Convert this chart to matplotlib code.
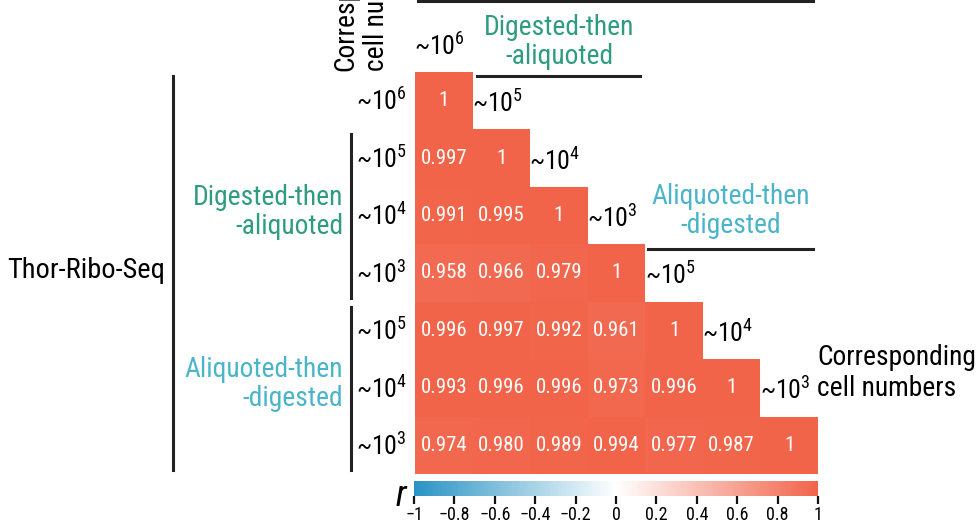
import numpy as np
import matplotlib
matplotlib.use("Agg")
import matplotlib.pyplot as plt
from matplotlib.colors import LinearSegmentedColormap

# condensed sans to mimic the Helvetica Condensed look
plt.rcParams['font.family'] = ['Roboto Condensed', 'Liberation Sans', 'DejaVu Sans']
plt.rcParams['mathtext.fontset'] = 'custom'
plt.rcParams['mathtext.rm'] = 'Roboto Condensed'
plt.rcParams['mathtext.it'] = 'Roboto Condensed:italic'
plt.rcParams['mathtext.default'] = 'regular'

# ---- data ----
exponents = [6, 5, 4, 3, 5, 4, 3]
cell_labels = ['~10$^{%d}$' % e for e in exponents]
corr_rows = [
    [1],
    [0.997, 1],
    [0.991, 0.995, 1],
    [0.958, 0.966, 0.979, 1],
    [0.996, 0.997, 0.992, 0.961, 1],
    [0.993, 0.996, 0.996, 0.973, 0.996, 1],
    [0.974, 0.980, 0.989, 0.994, 0.977, 0.987, 1],
]
group_names = ['Digested-then\n-aliquoted', 'Aliquoted-then\n-digested']
group_colors = ['#2e9c80', '#4ab4c8']
cbar_ticks = [-1, -0.8, -0.6, -0.4, -0.2, 0, 0.2, 0.4, 0.6, 0.8, 1]

n = len(cell_labels)
mat = np.full((n, n), np.nan)
for i, row in enumerate(corr_rows):
    mat[i, :len(row)] = row
mat = np.ma.masked_invalid(mat)

cmap = LinearSegmentedColormap.from_list('corr', ['#2a93c4', '#ffffff', '#f1644a'])

W, H = 976, 528
fig = plt.figure(figsize=(W / 100, H / 100), dpi=100)

# overlay in pixel coords for brackets / labels
ov = fig.add_axes([0, 0, 1, 1])
ov.set_xlim(0, W)
ov.set_ylim(H, 0)
ov.axis('off')

# heatmap
ax = fig.add_axes([415 / W, 1 - 474 / H, 403 / W, 402 / H])
mesh = ax.pcolormesh(np.arange(n + 1), np.arange(n + 1), mat, cmap=cmap,
                     vmin=-1, vmax=1, edgecolors='none')
ax.set_xlim(0, n)
ax.set_ylim(n, 0)
ax.axis('off')

for i, row in enumerate(corr_rows):
    for j, v in enumerate(row):
        txt = '1' if v == 1 else '%.3f' % v
        ax.text(j + 0.5, i + 0.5, txt, ha='center', va='center',
                color='white', fontsize=15)

# row labels (left of heatmap)
for i, lab in enumerate(cell_labels):
    ax.text(-0.14, i + 0.52, lab, ha='right', va='center', fontsize=18.5)

# column labels on the diagonal steps
for j, lab in enumerate(cell_labels):
    ax.text(j + 0.43, j - 0.45, lab, ha='center', va='center', fontsize=18.5)

# left side: group brackets
ov.plot([351, 351], [134, 298], color='#222222', lw=2.2)
ov.plot([351, 351], [307, 470], color='#222222', lw=2.2)
ov.plot([173, 173], [76, 470], color='#222222', lw=2.2)
ov.text(343, 212, group_names[0], ha='right', va='center', color=group_colors[0],
        fontsize=19.8, linespacing=1.1)
ov.text(343, 384, group_names[1], ha='right', va='center', color=group_colors[1],
        fontsize=19.8, linespacing=1.1)
ov.text(165, 270, 'Thor-Ribo-Seq', ha='right', va='center', fontsize=20.5)

# top side: group brackets
ov.plot([418, 813], [1, 1], color='#222222', lw=2.2)
ov.plot([477, 640], [76, 76], color='#222222', lw=2.2)
ov.plot([648, 813], [249, 249], color='#222222', lw=2.2)
ov.text(559, 42, group_names[0], ha='center', va='center', color=group_colors[0],
        fontsize=19.8, linespacing=1.1)
ov.text(731, 211, group_names[1], ha='center', va='center', color=group_colors[1],
        fontsize=19.8, linespacing=1.1)

ov.text(817, 373, 'Corresponding\ncell numbers', ha='left', va='center',
        fontsize=19.8, linespacing=1.2)
ov.text(361, 71, 'Corresponding\ncell numbers', ha='left', va='center',
        rotation=90, rotation_mode='anchor', fontsize=19.8, linespacing=1.2)

# colorbar
cax = fig.add_axes([414 / W, 1 - 495.5 / H, 404 / W, 14.5 / H])
cb = fig.colorbar(mesh, cax=cax, orientation='horizontal', ticks=cbar_ticks)
cb.outline.set_visible(False)
cb.ax.set_xticklabels([('%g' % t).replace('-', '\u2212') for t in cbar_ticks])
cb.ax.tick_params(axis='x', length=6, width=1.6, color='#111111', labelsize=13, pad=1.5)
ov.text(401, 496, 'r', ha='center', va='center', fontsize=26, style='italic')

fig.savefig('out.png', dpi=100)
